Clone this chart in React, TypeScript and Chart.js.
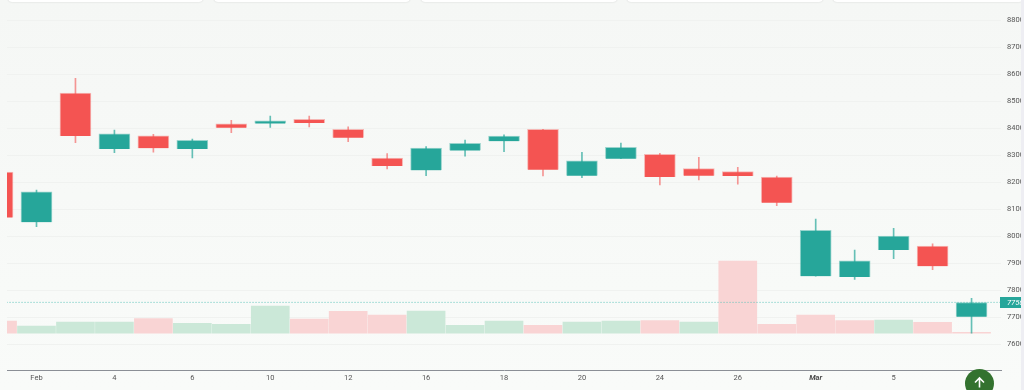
import React, { useEffect, useRef } from "react";
import { Chart, registerables } from "chart.js";

Chart.register(...registerables);

const tickLabels = ["", "Feb", "", "4", "", "6", "", "10", "", "12", "", "16", "", "18", "", "20", "", "24", "", "26", "", "Mar", "", "5", "", ""];
const bodyLow = [8070, 8053, 8372, 8324, 8327, 8324, 8403, 8418, 8420, 8366, 8261, 8245, 8318, 8353, 8247, 8225, 8288, 8220, 8225, 8224, 8125, 7853, 7850, 7950, 7890, 7703];
const bodyHigh = [8238, 8165, 8531, 8380, 8373, 8356, 8417, 8428, 8434, 8397, 8290, 8327, 8345, 8372, 8397, 8280, 8330, 8304, 8251, 8240, 8220, 8023, 7910, 8001, 7964, 7755];
const wickLow = [8070, 8036, 8347, 8310, 8312, 8291, 8384, 8404, 8406, 8351, 8250, 8225, 8297, 8314, 8224, 8218, 8288, 8191, 8209, 8194, 8114, 7853, 7841, 7918, 7877, 7642];
const wickHigh = [8238, 8172, 8586, 8394, 8378, 8361, 8430, 8446, 8446, 8406, 8307, 8333, 8357, 8376, 8397, 8312, 8346, 8308, 8293, 8256, 8224, 8064, 7950, 8030, 7973, 7771];
const direction = ["d", "u", "d", "u", "d", "u", "d", "u", "d", "d", "d", "u", "u", "u", "d", "u", "u", "d", "d", "d", "d", "u", "u", "u", "d", "u"];
const volumes = [12.3, 7.3, 11.3, 11.3, 14.7, 10, 9, 27.3, 14.3, 22, 18.3, 22.3, 8, 12.3, 8, 11.3, 12.3, 12.7, 11.3, 72.3, 9, 18.3, 12.7, 13.3, 11, 1];
const volumeDirection = ["d", "u", "u", "u", "d", "u", "u", "u", "d", "d", "d", "u", "u", "u", "d", "u", "u", "d", "u", "d", "d", "d", "d", "u", "d", "d"];
const priceTicks = [7600, 7700, 7800, 7900, 8000, 8100, 8200, 8300, 8400, 8500, 8600, 8700, 8800];
const lastPrice = 7756;

const RED = "#f45452";
const TEAL = "#26a69a";
const col = (d: string, u: string, r: string) => (d === "u" ? u : r);

const priceTag = {
  id: "priceTag",
  afterDraw(chart: any) {
    const { ctx, scales } = chart;
    const y = scales.y.getPixelForValue(lastPrice);
    ctx.save();
    ctx.fillStyle = TEAL;
    ctx.fillRect(1000, Math.round(y) - 5, 24, 11);
    ctx.fillStyle = "#fff";
    ctx.font = "italic 7.5px Roboto";
    ctx.textBaseline = "middle";
    ctx.fillText(String(lastPrice), 1007, y + 0.5);
    ctx.restore();
  },
};

export default function App() {
  const ref = useRef<HTMLCanvasElement>(null);
  useEffect(() => {
    document.body.style.margin = "0";
    const xy = (lo: number[], hi: number[]) => lo.map((l, i) => ({ x: i, y: [l, hi[i]] }));
    const chart = new Chart(ref.current!, {
      type: "bar",
      data: {
        datasets: [
          {
            label: "Volume",
            yAxisID: "v",
            grouped: false,
            order: 4,
            barThickness: 38,
            data: volumes.map((v, i) => ({ x: i, y: v })),
            backgroundColor: volumeDirection.map((d) => col(d, "#cbe8d8", "#f9d4d4")),
          },
          {
            type: "line",
            label: "Last",
            order: 3,
            data: [{ x: 0, y: lastPrice }, { x: 26, y: lastPrice }],
            borderColor: "#5cc4ba",
            borderWidth: 1,
            borderDash: [1, 2],
            pointRadius: 0,
          },
          {
            label: "Wick",
            grouped: false,
            order: 2,
            barThickness: 1,
            data: xy(wickLow, wickHigh),
            backgroundColor: direction.map((d) => col(d, "rgba(38,166,154,0.7)", "rgba(244,84,82,0.6)")),
          },
          {
            label: "Body",
            grouped: false,
            order: 1,
            barThickness: 31,
            data: xy(bodyLow, bodyHigh),
            backgroundColor: direction.map((d) => col(d, TEAL, RED)),
            borderColor: direction.map((d) => col(d, "rgba(38,166,154,0.45)", "rgba(244,84,82,0.4)")),
            borderWidth: 1,
          },
        ] as any,
      },
      plugins: [priceTag],
      options: {
        animation: false,
        responsive: false,
        layout: { padding: { left: 7, top: 8, right: 0, bottom: 0 } },
        plugins: { legend: { display: false }, tooltip: { enabled: false } },
        scales: {
          x: {
            type: "linear",
            offset: false,
            min: 0.2428,
            max: 25.756,
            afterBuildTicks(s: any) {
              s.ticks = tickLabels.map((t, i) => ({ value: i, label: t })).filter((t) => t.label);
            },
            afterFit(s: any) {
              s.height = 20;
            },
            grid: { display: false, drawTicks: false },
            border: { display: true, color: "#8b8f96", width: 1 },
            ticks: {
              autoSkip: false,
              maxRotation: 0,
              padding: 4,
              color: (c: any) => (tickLabels[c.tick?.value] === "Mar" ? "#4a4a4a" : "#555"),
              font: (c: any) => ({
                family: "Roboto",
                size: 7.5,
                style: tickLabels[c.tick?.value] === "Mar" ? "italic" : "normal",
                weight: tickLabels[c.tick?.value] === "Mar" ? "bold" : "normal",
              }),
              callback: (v: any) => tickLabels[v as number] ?? "",
            },
          },
          y: {
            position: "right",
            min: 7505.6,
            max: 8836.7,
            afterBuildTicks(s: any) {
              s.ticks = priceTicks.map((value) => ({ value }));
            },
            afterFit(s: any) {
              s.width = 23;
            },
            grid: { color: "#f0f2f0", lineWidth: 1, drawTicks: false },
            border: { display: false },
            ticks: {
              padding: 6,
              align: "center",
              crossAlign: "near",
              color: "#555",
              font: { family: "Roboto", size: 7.5 },
              callback: (v: any) => String(v),
            },
          },
          v: { display: false, min: -36.7, max: 322.7 },
        },
      } as any,
    });
    return () => chart.destroy();
  }, []);

  const cards = [[8, 195], [214, 196], [421, 196], [627, 196], [833, 190]];
  return (
    <div
      style={{
        position: "fixed",
        left: 0,
        top: 0,
        width: 1024,
        height: 390,
        overflow: "hidden",
        background: "linear-gradient(#f5f7f5, #f9fbf9)",
      }}
    >
      <canvas ref={ref} width={1024} height={390} style={{ display: "block", filter: "blur(0.35px)" }} />
      {cards.map(([x, w]) => (
        <div
          key={x}
          style={{
            position: "absolute",
            left: x,
            top: -10,
            width: w,
            height: 12,
            background: "#fff",
            borderRadius: 4,
            boxShadow: "0 0 2px rgba(0,0,0,0.15)",
          }}
        />
      ))}
      <div style={{ position: "absolute", left: 1021, top: 0, width: 3, height: 390, background: "#eeeef3" }} />
      <div
        style={{
          position: "absolute",
          left: 965,
          top: 369,
          width: 29,
          height: 29,
          borderRadius: "50%",
          background: "#33722f",
        }}
      >
        <svg width="29" height="29" viewBox="0 0 29 29">
          <path d="M14.5 18.5V9M10 13.5l4.5-4.5 4.5 4.5" stroke="#fff" strokeWidth="1.6" fill="none" />
        </svg>
      </div>
    </div>
  );
}
